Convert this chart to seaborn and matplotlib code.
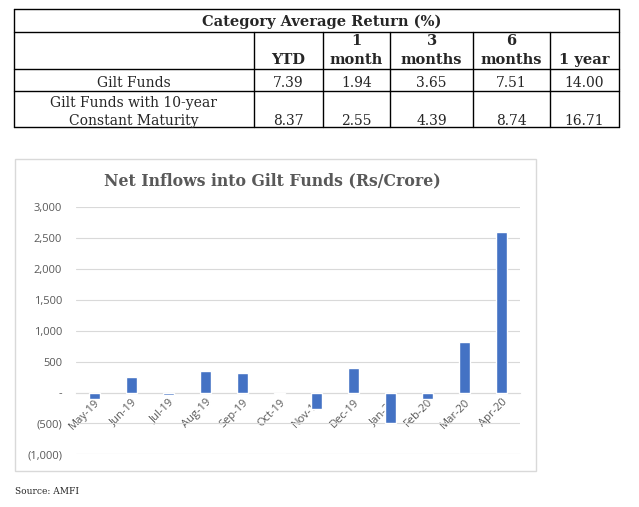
# =========================================
# Net inflows into Gilt Funds + category return table
# =========================================

import matplotlib
matplotlib.use("Agg")
import matplotlib.pyplot as plt
from matplotlib.ticker import FuncFormatter
from matplotlib.patches import Rectangle
import seaborn as sns

# -----------------------------------------
# Datos
# -----------------------------------------
meses = ["May-19", "Jun-19", "Jul-19", "Aug-19", "Sep-19", "Oct-19",
         "Nov-19", "Dec-19", "Jan-20", "Feb-20", "Mar-20", "Apr-20"]
flujos = [-110, 250, -40, 345, 310, -22, -270, 390, -495, -110, 825, 2600]

titulo_tabla = "Category Average Return (%)"
encabezado_sup = ["", "1", "3", "6", ""]
encabezado_inf = ["YTD", "month", "months", "months", "1 year"]
etiqueta_fila1 = ["Gilt Funds"]
etiqueta_fila2 = ["Gilt Funds with 10-year", "Constant Maturity"]
retornos_fila1 = ["7.39", "1.94", "3.65", "7.51", "14.00"]
retornos_fila2 = ["8.37", "2.55", "4.39", "8.74", "16.71"]

titulo_grafico = "Net Inflows into Gilt Funds (Rs/Crore)"
fuente = "Source: AMFI"

# -----------------------------------------
# Parámetros de diseño (pixeles)
# -----------------------------------------
ANCHO, ALTO = 639, 507
FILAS_Y = [9.3, 31.7, 69, 90.7, 127.3]
COLUMNAS_X = [14, 254, 323, 390, 473, 550, 619]
GRIS = "#595959"
GRIS_CLARO = "#d9d9d9"
AZUL = "#4472C4"
SERIF = "DejaVu Serif"

sns.set_style("white")
plt.rcParams["font.family"] = ["Open Sans", "DejaVu Sans"]

fig = plt.figure(figsize=(ANCHO / 100, ALTO / 100), dpi=100)

# capa de fondo en pixeles para la tabla, el marco y los textos
fondo = fig.add_axes([0, 0, 1, 1])
fondo.set_xlim(0, ANCHO)
fondo.set_ylim(ALTO, 0)
fondo.axis("off")

# -----------------------------------------
# Tabla
# -----------------------------------------
for y in FILAS_Y:
    fondo.plot([COLUMNAS_X[0], COLUMNAS_X[-1]], [y, y], color="black", lw=1)
for x in (COLUMNAS_X[0], COLUMNAS_X[-1]):
    fondo.plot([x, x], [FILAS_Y[0], FILAS_Y[-1]], color="black", lw=1)
for x in COLUMNAS_X[1:-1]:
    fondo.plot([x, x], [FILAS_Y[1], FILAS_Y[-1]], color="black", lw=1)

fondo.text((COLUMNAS_X[0] + COLUMNAS_X[-1]) / 2 + 5, 26, titulo_tabla,
           ha="center", va="baseline", fontsize=10.5, fontweight="bold",
           family=SERIF)

centros = [(COLUMNAS_X[i] + COLUMNAS_X[i + 1]) / 2 for i in range(1, 6)]
for cx, sup, inf, v1, v2 in zip(centros, encabezado_sup, encabezado_inf,
                                retornos_fila1, retornos_fila2):
    fondo.text(cx, 45, sup, ha="center", va="baseline", fontsize=10.5,
               fontweight="bold", family=SERIF)
    fondo.text(cx, 64, inf, ha="center", va="baseline", fontsize=10.5,
               fontweight="bold", family=SERIF)
    fondo.text(cx, 87, v1, ha="center", va="baseline", fontsize=10,
               family=SERIF)
    fondo.text(cx, 125, v2, ha="center", va="baseline", fontsize=10,
               family=SERIF)

cx0 = (COLUMNAS_X[0] + COLUMNAS_X[1]) / 2
fondo.text(cx0, 87, etiqueta_fila1[0], ha="center", va="baseline",
           fontsize=10, family=SERIF)
fondo.text(cx0, 107, etiqueta_fila2[0], ha="center", va="baseline",
           fontsize=10, family=SERIF)
fondo.text(cx0, 125, etiqueta_fila2[1], ha="center", va="baseline",
           fontsize=10, family=SERIF)

# -----------------------------------------
# Marco del gráfico, título y fuente
# -----------------------------------------
fondo.add_patch(Rectangle((15, 159), 521, 312, fill=False,
                          edgecolor=GRIS_CLARO, lw=1))
fondo.text(272, 181, titulo_grafico, ha="center", va="center",
           fontsize=11.3, fontweight="bold", color=GRIS, family=SERIF)
fondo.text(15, 491, fuente, ha="left", va="center", fontsize=6.5,
           family=SERIF)

# -----------------------------------------
# Gráfico de barras
# -----------------------------------------
ax = fig.add_axes([76 / ANCHO, 1 - 454.3 / ALTO, 444 / ANCHO, 247 / ALTO])
sns.barplot(x=meses, y=flujos, color=AZUL, saturation=1, width=0.3, ax=ax)

ax.set_ylim(-1000, 3000)
ax.set_yticks(range(-1000, 3001, 500))


def formato_contable(valor, pos):
    if valor == 0:
        return "-"
    if valor < 0:
        return "({:,.0f})".format(-valor)
    return "{:,.0f}".format(valor)


ax.yaxis.set_major_formatter(FuncFormatter(formato_contable))
ax.yaxis.grid(True, color=GRIS_CLARO, lw=0.8)
ax.set_axisbelow(True)

for lado in ("top", "right", "left"):
    ax.spines[lado].set_visible(False)
ax.spines["bottom"].set_position(("data", 0))
ax.spines["bottom"].set_color(GRIS_CLARO)
ax.spines["bottom"].set_linewidth(0.8)
ax.spines["bottom"].set_zorder(0.5)

ax.set_xticks(range(len(meses)))
ax.set_xticklabels(meses, rotation=45, ha="right", rotation_mode="anchor")
ax.set_xticks([i - 0.5 for i in range(len(meses) + 1)], minor=True)
ax.tick_params(axis="x", which="major", length=0, pad=3, labelsize=8,
               labelcolor=GRIS)
ax.tick_params(axis="x", which="minor", length=4, width=0.8,
               color=GRIS_CLARO)
ax.tick_params(axis="y", length=0, pad=10, labelsize=8, labelcolor=GRIS)
ax.set_xlabel("")
ax.set_ylabel("")

plt.savefig("out.png", dpi=100)
